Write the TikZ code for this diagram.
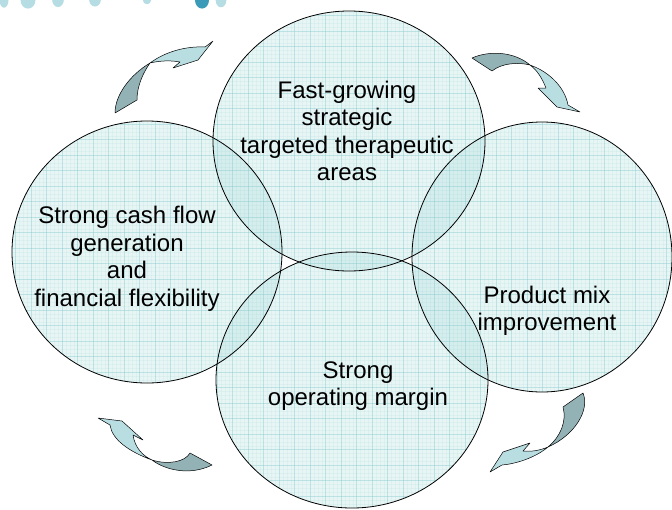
\documentclass[tikz,border=0pt]{standalone}
\usepackage{fontspec}
\setmainfont{Liberation Sans}
\usetikzlibrary{positioning}
\definecolor{circlefill}{RGB}{120,196,196}
\definecolor{gridline}{RGB}{140,205,208}
\definecolor{arrowlight}{RGB}{185,222,226}
\definecolor{arrowdark}{RGB}{147,178,181}
\definecolor{dotlight}{RGB}{181,221,227}
\definecolor{dotdark}{RGB}{58,154,184}
\tikzset{
	bubble/.style={fill=circlefill, fill opacity=0.17},
	bubbleline/.style={draw=black, line width=0.8pt},
	bubbletext/.style={align=center, inner sep=0pt, font=\fontsize{24}{27.5}\selectfont},
	majorgrid/.style={draw=gridline, line width=0.45pt, opacity=0.4},
	minorgrid/.style={draw=gridline, line width=0.25pt, opacity=0.12},
	ribbonlight/.style={fill=arrowlight, draw=black, line width=0.5pt, line join=round},
	ribbondark/.style={fill=arrowdark, draw=black, line width=0.5pt, line join=round}
}

\begin{document}
\begin{tikzpicture}[x=1pt, y=-1pt]
	\useasboundingbox (0,0) rectangle (672,509);
	
	% dots along the top
	\fill[dotlight] (4,0) ellipse [x radius=4.5, y radius=7.7];
	\fill[dotlight] (28,0) ellipse [x radius=7.5, y radius=8.6];
	\fill[dotlight] (58,0) ellipse [x radius=5.8, y radius=7];
	\fill[dotlight] (95,0) ellipse [x radius=5.8, y radius=6.5];
	\fill[dotlight] (147,0) ellipse [x radius=4.2, y radius=4.3];
	\fill[dotdark] (202,0) ellipse [x radius=7, y radius=8.6];
	\fill[dotlight] (221,0) ellipse [x radius=5.4, y radius=7.3];
	
	% circles
	\fill[bubble] (349,141) ellipse [x radius=136, y radius=130];
	\fill[bubble] (542,257) ellipse [x radius=130, y radius=135];
	\fill[bubble] (352,380) ellipse [x radius=136, y radius=128];
	\fill[bubble] (147,252) ellipse [x radius=135, y radius=131];
	
	\begin{scope}
		\clip (349,141) ellipse [x radius=136, y radius=130]
		(542,257) ellipse [x radius=130, y radius=135]
		(352,380) ellipse [x radius=136, y radius=128]
		(147,252) ellipse [x radius=135, y radius=131];
		\foreach \gx in {0,3.875,...,672}
		\draw[minorgrid] (\gx,0) -- (\gx,509);
		\foreach \gy in {0,3.875,...,509}
		\draw[minorgrid] (0,\gy) -- (672,\gy);
		\foreach \gx in {0,15.5,...,672}
		\draw[majorgrid] (\gx,0) -- (\gx,509);
		\foreach \gy in {0,15.5,...,509}
		\draw[majorgrid] (0,\gy) -- (672,\gy);
	\end{scope}
	
	\draw[bubbleline] (349,141) ellipse [x radius=136, y radius=130];
	\draw[bubbleline] (542,257) ellipse [x radius=130, y radius=135];
	\draw[bubbleline] (352,380) ellipse [x radius=136, y radius=128];
	\draw[bubbleline] (147,252) ellipse [x radius=135, y radius=131];
	
	% texts
	\node[bubbletext] (growth) at (347,131) {Fast-growing\\strategic\\targeted therapeutic\\areas};
	\node[bubbletext] (cashflow) at (127,259) {Strong cash flow\\generation\\and\\financial flexibility};
	\node[bubbletext] (productmix) at (547,311) {Product mix\\improvement};
	\node[bubbletext] (margin) at (358,386) {Strong\\operating margin};
	
	% top left arrow
	\filldraw[ribbondark] (150,63) .. controls (143,73) and (137,86) .. (137,100) -- (115,113) .. controls (115,95) and (130,75) .. (150,63) -- cycle;
	\filldraw[ribbonlight] (150,63) .. controls (165,52) and (185,46) .. (205,47) -- (213,41) -- (198,60) -- (173,68) -- (180,62) .. controls (170,60) and (158,61) .. (150,63) -- cycle;
	
	% top right arrow
	\filldraw[ribbondark] (472,58) .. controls (490,50) and (515,52) .. (530,65) .. controls (518,62) and (502,63) .. (492,71) -- cycle;
	\filldraw[ribbonlight] (530,65) .. controls (550,72) and (565,88) .. (568,105) -- (580,112) -- (557,107) -- (538,88) -- (546,88) .. controls (542,78) and (537,70) .. (530,65) -- cycle;
	
	% bottom left arrow
	\filldraw[ribbondark] (152,460) .. controls (165,470) and (190,476) .. (212,465) -- (190,453) .. controls (185,462) and (168,465) .. (152,460) -- cycle;
	\filldraw[ribbonlight] (98,418) -- (122,421) -- (143,440) -- (133,435) .. controls (135,448) and (143,456) .. (152,460) .. controls (130,452) and (112,440) .. (110,425) -- cycle;
	
	% bottom right arrow
	\filldraw[ribbondark] (583,393) .. controls (590,410) and (575,435) .. (548,447) .. controls (560,437) and (567,422) .. (563,407) -- cycle;
	\filldraw[ribbonlight] (548,447) .. controls (535,458) and (515,464) .. (502,465) -- (490,472) -- (503,452) -- (530,443) -- (523,451) .. controls (532,452) and (541,450) .. (548,447) -- cycle;
\end{tikzpicture}
\end{document}
